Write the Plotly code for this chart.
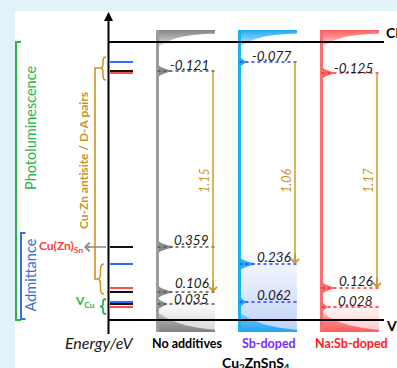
import numpy as np
import plotly.graph_objects as go

# ---------------- data ----------------
samples = ["No additives", "Sb-doped", "Na:Sb-doped"]
donor_levels = [-0.121, -0.077, -0.125]            # eV, below CB
acceptor_levels = [[0.359, 0.106, 0.035],          # eV, above VB
                   [0.236, 0.062],
                   [0.126, 0.028]]
transition_energy = [1.15, 1.06, 1.17]             # eV
transition_target = [0.106, 0.236, 0.126]          # acceptor reached by the transition

# ------------- schematic layout (drawing positions, not data) -------------
W, H = 397, 368
Y_CB, Y_VB = 42, 320
donor_y = [71, 62, 73]
acceptor_y = [[247, 292, 304], [264, 302], [288, 307]]
label_dy = [[6, 7, 9, 5], [6, 7, 7], [5, 7, 6.5]]
col_x0 = [157.5, 239.5, 321.5]
COL_W = 57.5
COL_TOP, COL_BOT = 30, 332
peak_amp_donor = [14, 7, 13]
peak_amp_acc = [[16, 15, 10], [16, 7], [13, 6]]
light_top = [304, 252, 303]

FONT = "Lato"
GOLD = "#c8961e"
col_line = ["#9c9c9c", "#18b2f0", "#ff6e6e"]
col_rgb = [(125, 125, 125), (20, 165, 240), (255, 85, 85)]
light_rgb = [(200, 200, 200), (170, 195, 245), (255, 185, 185)]
dot_color = ["#555555", "#2a3cff", "#ff2a2a"]
level_line_color = ["#111111", "#2f6bff", "#ff4d4d"]
label_color = ["#000000", "#7a2cff", "#ff2020"]

fig = go.Figure()
shapes, annots = [], []


def rgba(c, a):
    return f"rgba({c[0]},{c[1]},{c[2]},{a})"


def txt(x, y, s, size, color, bold=False, italic=False, angle=0, xanchor="center", yanchor="middle"):
    if bold:
        s = f"<b>{s}</b>"
    if italic:
        s = f"<i>{s}</i>"
    annots.append(dict(x=x, y=y, xref="x", yref="y", text=s, showarrow=False,
                       font=dict(family=FONT, size=size, color=color), textangle=angle,
                       xanchor=xanchor, yanchor=yanchor))


def line(x0, y0, x1, y1, color, width=2, dash="solid"):
    shapes.append(dict(type="line", xref="x", yref="y", x0=x0, y0=y0, x1=x1, y1=y1,
                       line=dict(color=color, width=width, dash=dash), layer="above"))


def path(p, color, width):
    shapes.append(dict(type="path", xref="x", yref="y", path=p,
                       line=dict(color=color, width=width), layer="above"))


def brace(xt, ym, y0, y1, w, color, width=1.5):
    xm, xr = xt + w / 2, xt + w
    q1 = (ym - y0) * 0.35
    q2 = (y1 - ym) * 0.35
    p = (f"M {xr},{y0} Q {xm},{y0} {xm},{y0 + q1} L {xm},{ym - q1} Q {xm},{ym} {xt},{ym} "
         f"Q {xm},{ym} {xm},{ym + q2} L {xm},{y1 - q2} Q {xm},{y1} {xr},{y1}")
    path(p, color, width)


def arrow(x, y, ax, ay, color, width=1.5, head=4, size=1.0):
    annots.append(dict(x=x, y=y, ax=ax, ay=ay, xref="x", yref="y", axref="x", ayref="y",
                       text="", showarrow=True, arrowhead=head, arrowsize=size,
                       arrowwidth=width, arrowcolor=color))


# white panel
shapes.append(dict(type="rect", xref="x", yref="y", x0=15, x1=W + 5, y0=11, y1=H + 5,
                   fillcolor="white", line_width=0, layer="below"))

# ---------------- columns ----------------
for i, name in enumerate(samples):
    x0 = col_x0[i]
    x1 = x0 + COL_W
    c = col_rgb[i]
    lc = light_rgb[i]
    # light region above VB
    fig.add_trace(go.Scatter(x=[x0, x1, x1, x0, x0], y=[light_top[i], light_top[i], COL_BOT, COL_BOT, light_top[i]],
                             mode="none", fill="toself", hoverinfo="skip", showlegend=False,
                             fillgradient=dict(type="vertical", start=light_top[i], stop=COL_BOT,
                                               colorscale=[[0, rgba(lc, 0.05)], [1, rgba(lc, 0.75)]])))
    # CB density of states
    t = np.linspace(0, 1, 50)
    xc = x0 + t * COL_W
    yc = COL_TOP + 3 + 15 * np.exp(-3.2 * t)
    xs = np.concatenate([[x0, x1], xc[::-1], [x0]])
    ys = np.concatenate([[COL_TOP, COL_TOP], yc[::-1], [COL_TOP]])
    fig.add_trace(go.Scatter(x=xs, y=ys, mode="none", fill="toself", hoverinfo="skip", showlegend=False,
                             fillgradient=dict(type="vertical", start=COL_TOP, stop=COL_TOP + 18,
                                               colorscale=[[0, rgba(c, 0.95)], [1, rgba(c, 0.15)]])))
    # VB density of states
    yv = COL_BOT - 20 * np.exp(-2.2 * t)
    xs = np.concatenate([xc, [x1, x0, x0]])
    ys = np.concatenate([yv, [COL_BOT, COL_BOT, yv[0]]])
    fig.add_trace(go.Scatter(x=xs, y=ys, mode="none", fill="toself", hoverinfo="skip", showlegend=False,
                             fillgradient=dict(type="vertical", start=COL_BOT - 20, stop=COL_BOT,
                                               colorscale=[[0, rgba(c, 0.35)], [1, rgba(c, 0.95)]])))
    # defect peaks
    lv_y = [donor_y[i]] + acceptor_y[i]
    lv_amp = [peak_amp_donor[i]] + peak_amp_acc[i]
    for yl, amp in zip(lv_y, lv_amp):
        yy = np.linspace(yl - 9, yl + 9, 41)
        xx = x0 + amp * np.exp(-np.abs((yy - yl) / 3.2) ** 1.5)
        fig.add_trace(go.Scatter(x=np.concatenate([[x0], xx, [x0]]), y=np.concatenate([[yy[0]], yy, [yy[-1]]]),
                                 mode="none", fill="toself", fillcolor=rgba(c, 0.9),
                                 hoverinfo="skip", showlegend=False))
    # column line
    line(x0, COL_TOP, x0, COL_BOT, col_line[i], 3)
    # dotted levels + labels
    labels = [f"{donor_levels[i]:.3f}"] + [f"{v:.3f}" for v in acceptor_levels[i]]
    for yl, lab, dy in zip(lv_y, labels, label_dy[i]):
        line(x0, yl, x1, yl, dot_color[i], 1.6, "dot")
        txt(x1 - 4, yl - dy, lab, 13.5, "#1a1a1a", italic=True, xanchor="right")
    # transition arrow
    ya = acceptor_y[i][acceptor_levels[i].index(transition_target[i])]
    xa = x1 - 2
    line(xa, donor_y[i], xa, ya - 3, GOLD, 1.4)
    arrow(xa, ya, xa, ya - 12, GOLD, 1.4, 4, 1.1)
    txt(xa - 9, 181, f"{transition_energy[i]:.2f}", 12.5, GOLD, italic=True, angle=-90)
    # sample label
    txt(x0 + COL_W / 2 + 1, 343, name, 12.5, label_color[i], bold=True)

# left short level lines
for i in range(3):
    for yl in [donor_y[i]] + acceptor_y[i]:
        line(110, yl, 133, yl, level_line_color[i], 2)

# CB / VB edges
line(109, Y_CB, 384, Y_CB, "#000000", 2)
line(109, Y_VB, 384, Y_VB, "#000000", 2)
txt(383.5, 32.5, "CB", 14, "#000000", bold=True, xanchor="left")
txt(383.5, 325.5, "VB", 14, "#000000", bold=True, xanchor="left")

# energy axis
line(108.5, 16, 108.5, 334, "#000000", 2)
arrow(108.5, 12, 108.5, 22, "#000000", 2, 2, 0.9)
txt(98.5, 342, "Energy/eV", 16, "#1a1a1a", italic=True)

# left annotations
GREEN = "#2ab34e"
BLUE = "#3a6fd0"
path("M 21,42 L 16,42 L 16,320 L 21,320", GREEN, 2)
path("M 25.5,233 L 21,233 L 21,319 L 25.5,319", BLUE, 2)
txt(30, 128, "Photoluminescence", 14.5, GREEN, angle=-90)
txt(29.5, 275, "Admittance", 14.5, BLUE, angle=-90)
path("M 100,68 L 95,68 L 95,279 L 97,279", GOLD, 1.6)
txt(83, 161, "Cu-Zn antisite / D-A pairs", 12, GOLD, bold=True, angle=-90)
brace(100, 68, 57, 80, 6, GOLD, 1.5)
brace(97, 279, 264, 294, 7, GOLD, 1.5)
brace(100, 306.5, 299, 314, 6, GREEN, 1.8)
txt(85, 301, "V<sub>Cu</sub>", 12, GREEN, bold=True)
line(106, 247, 88, 247, "#8a8a8a", 1.5)
arrow(84, 247, 92, 247, "#8a8a8a", 1.5, 4, 1.1)
txt(84.5, 246.5, "Cu(Zn)<sub>Sn</sub>", 12, "#ff3c3c", bold=True, xanchor="right")

txt(256, 363.5, "Cu<sub>2</sub>ZnSnS<sub>4</sub>", 14, "#000000", bold=True)

fig.update_layout(
    width=W, height=H, margin=dict(l=0, r=0, t=0, b=0),
    paper_bgcolor="#e0f2fa", plot_bgcolor="#e0f2fa",
    xaxis=dict(range=[0, W], visible=False, fixedrange=True),
    yaxis=dict(range=[H, 0], visible=False, fixedrange=True),
    shapes=shapes, annotations=annots, showlegend=False,
)
fig.write_html("out.html", config={"displayModeBar": False},
               post_script="document.body.style.margin='0';document.body.style.padding='0';"
                           "document.body.style.overflow='hidden';")
